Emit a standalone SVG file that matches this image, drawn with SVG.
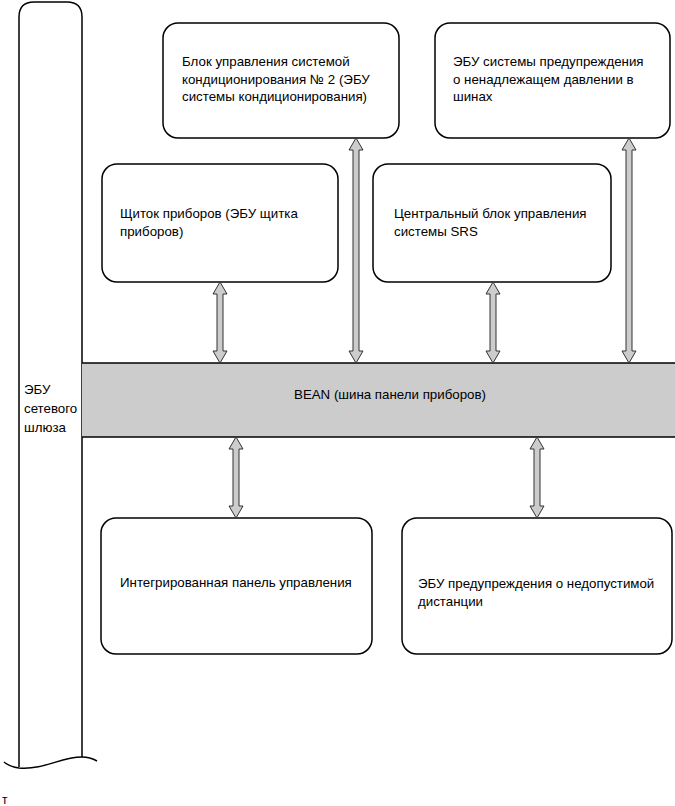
<svg xmlns="http://www.w3.org/2000/svg" width="675" height="806" viewBox="0 0 675 806">
<style>
.box{fill:#fff;stroke:#000;stroke-width:1.5}
.t{font-family:"Liberation Sans",Arial,sans-serif;font-size:13.3px;fill:#000}
.arr{fill:#cccccc;stroke:#333;stroke-width:1}
.ln{stroke:#000;stroke-width:1.5;fill:none}
</style>
<rect width="675" height="806" fill="#fff"/>
<g id="gateway">
<path class="ln" d="M19,767 V17 Q19,2 34,2 H67 Q82,2 82,17 V757"/>
<path class="ln" d="M4,762 Q10,767 19,768 C45,770 60,757 82,757 Q90,757 97,761"/>
<text class="t" x="24" y="394">ЭБУ</text>
<text class="t" x="24" y="413">сетевого</text>
<text class="t" x="24" y="432">шлюза</text>
</g>
<g id="bus">
<rect x="82" y="363" width="593" height="74" fill="#cccccc"/>
<line class="ln" x1="82" y1="363" x2="675" y2="363"/>
<line class="ln" x1="82" y1="437" x2="675" y2="437"/>
<text class="t" x="390" y="399" text-anchor="middle">BEAN (шина панели приборов)</text>
</g>
<g id="ac">
<rect class="box" x="163" y="23" width="236" height="115" rx="15"/>
<text class="t" x="182" y="66">Блок управления системой</text>
<text class="t" x="182" y="84">кондиционирования № 2 (ЭБУ</text>
<text class="t" x="182" y="101">системы кондиционирования)</text>
</g>
<g id="tpms">
<rect class="box" x="435" y="23" width="235" height="115" rx="15"/>
<text class="t" x="453" y="66">ЭБУ системы предупреждения</text>
<text class="t" x="453" y="84">о ненадлежащем давлении в</text>
<text class="t" x="453" y="101">шинах</text>
</g>
<g id="meter">
<rect class="box" x="102" y="164" width="236" height="118" rx="15"/>
<text class="t" x="120" y="218">Щиток приборов (ЭБУ щитка</text>
<text class="t" x="120" y="236">приборов)</text>
</g>
<g id="srs">
<rect class="box" x="373" y="164" width="238" height="118" rx="15"/>
<text class="t" x="394" y="218">Центральный блок управления</text>
<text class="t" x="394" y="236">системы SRS</text>
</g>
<g id="panel">
<rect class="box" x="101" y="518" width="271" height="136" rx="15"/>
<text class="t" x="120" y="587">Интегрированная панель управления</text>
</g>
<g id="distance">
<rect class="box" x="402" y="518" width="270" height="136" rx="15"/>
<text class="t" x="418" y="588">ЭБУ предупреждения о недопустимой</text>
<text class="t" x="418" y="606">дистанции</text>
</g>
<g id="connectors">
<polygon class="arr" points="220,282 227,294 223,294 223,351 227,351 220,363 213,351 217,351 217,294 213,294"/>
<polygon class="arr" points="356,138 363,150 359,150 359,351 363,351 356,363 349,351 353,351 353,150 349,150"/>
<polygon class="arr" points="493,282 500,294 496,294 496,351 500,351 493,363 486,351 490,351 490,294 486,294"/>
<polygon class="arr" points="629,138 636,150 632,150 632,351 636,351 629,363 622,351 626,351 626,150 622,150"/>
<polygon class="arr" points="236,437 243,449 239,449 239,506 243,506 236,518 229,506 233,506 233,449 229,449"/>
<polygon class="arr" points="537,437 544,449 540,449 540,506 544,506 537,518 530,506 534,506 534,449 530,449"/>
</g>
<text class="t" x="2" y="804" style="font-size:12px">т</text>
</svg>
